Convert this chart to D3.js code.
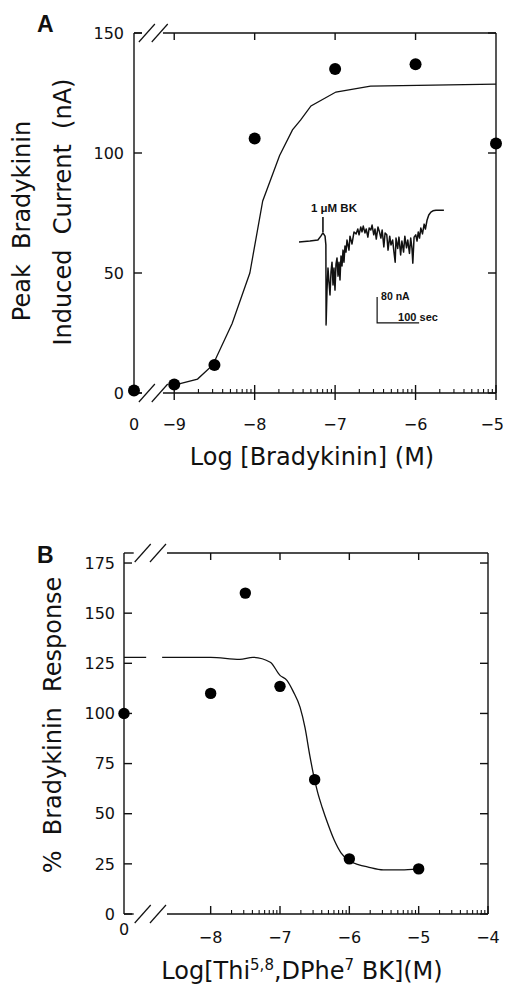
<!DOCTYPE html>
<html>
<head>
<meta charset="utf-8">
<script src="https://cdn.jsdelivr.net/npm/d3@7"></script>
<style>
	body{margin:0;background:#fff;}
	svg{display:block;}
	.ticklabel{font-family:"DejaVu Sans",sans-serif;font-size:16px;fill:#111;}
	.title{font-family:"DejaVu Sans",sans-serif;font-size:24px;fill:#111;}
	.panel{font-family:"Liberation Sans",Arial,sans-serif;font-weight:bold;font-size:23px;fill:#111;}
	.inset{font-family:"Liberation Sans",Arial,sans-serif;font-weight:bold;font-size:10.5px;fill:#111;}
	.axis{stroke:#111;stroke-width:1.4;fill:none;}
	.fit{stroke:#111;stroke-width:1.3;fill:none;}
	.trace{stroke:#111;stroke-width:1.5;fill:none;stroke-linejoin:round;}
</style>
</head>
<body>
<svg id="fig" width="505" height="986"></svg>
<script>
// ---- Panel A : peak bradykinin current vs log [BK] ----
const zeroA = -9.5;   // where "0" concentration sits on the broken axis
const logA = [zeroA, -9, -8.5, -8, -7, -6, -5];
const currentA = [1, 3.5, 11.7, 106, 135, 137, 104];
const fitLogA = [-9.0, -8.71, -8.52, -8.28, -8.06, -7.9, -7.69, -7.53, -7.43, -7.3, -6.99, -6.56, -5.0];
const fitCurrentA = [3.3, 5.8, 11.7, 29, 50, 80, 99, 109.6, 113.7, 119.6, 125.4, 127.9, 128.7];
const xTicksA = [zeroA, -9, -8, -7, -6, -5];
const xTickLabelsA = ["0", "\u22129", "\u22128", "\u22127", "\u22126", "\u22125"];
const yTicksA = [0, 50, 100, 150];

// inset current trace (seconds, nA relative to holding current)
const traceTime = [0, 26, 45, 52, 57, 62, 64, 64.5, 66.7, 69, 71.4, 73.8, 76.2, 78.6, 81, 83.3, 85.7, 88.1, 90.5, 92.9, 95.2, 97.6, 100, 102.4, 104.8, 107.1, 109.5, 111.9, 114.3, 119, 121.4, 126.2, 131,
	136, 140, 143, 147, 150, 153, 157, 160, 164, 167, 171, 174, 178, 181, 184, 188, 191, 195, 198, 202, 205, 209, 212, 216, 219, 223, 226, 229, 231, 235, 238, 242, 245, 249, 252, 256, 259, 263, 266, 269, 271, 274, 278, 281, 284, 287, 290, 294, 298, 301, 305, 309, 314, 319, 326, 345];
const traceCurrent = [0, 3, 6, 18, 28, 18, -9, -255, -148, -80, -123, -163, -92, -62, -132, -80, -148, -68, -49, -105, -62, -117, -43, -74, -25, -62, -12, -31, 6, -25, 18, -6, 31,
	25, 40, 22, 46, 31, 49, 28, 40, 15, 43, 37, 52, 22, 40, 9, 46, 34, 12, 37, -15, 28, 22, -25, 18, -9, 6, -30, -62, 12, -20, 15, -40, 3, -31, 18, -18, 6, -35, 12, -20, -65, 15, 22, 3, 31, 12, 43, 25, 55, 40, 68, 83, 92, 96, 98, 98];
const markerTime = 57;
const markerCurrent = [31, 77];
const scaleBarTime = 100, scaleBarCurrent = 80;
const scaleBarOrigin = [186, -249];

// ---- Panel B : % bradykinin response vs log [antagonist] ----
const zeroB = -9.25;
const logB = [zeroB, -8, -7.5, -7, -6.5, -6, -5];
const responseB = [100, 110, 160, 113.5, 67, 27.5, 22.5];
const fitLogB = [-9.25, -8.93, -8.8, -8.70, -8.0, -7.58, -7.39, -7.14, -7.0, -6.90, -6.81, -6.71, -6.64, -6.57, -6.52, -6.46, -6.39, -6.31, -6.22, -6.12, -6.02, -5.86, -5.74, -5.51, -5.25, -5.02];
const fitResponseB = [128, 128, null, 128, 128, 127, 128, 125.5, 119, 116.5, 111, 103, 93, 79, 70, 61, 53, 45, 37, 30.5, 27, 24.5, 23.5, 22, 22, 22.5];
const xTicksB = [zeroB, -8, -7, -6, -5, -4];
const xTickLabelsB = ["0", "\u22128", "\u22127", "\u22126", "\u22125", "\u22124"];
const yTicksB = [0, 25, 50, 75, 100, 125, 150, 175];

const svg = d3.select("#fig");

/* draws a framed panel with a broken log axis */
function drawFrame(g, x, y, opt){
	const [x0, x1] = x.domain();
	const [yb, yt] = y.domain();
	const Y0 = y(yb), Y1 = y(yt);
	// left and right sides
	g.append("line").attr("class","axis").attr("x1",x(x0)).attr("x2",x(x0)).attr("y1",Y0).attr("y2",Y1);
	g.append("line").attr("class","axis").attr("x1",x(x1)).attr("x2",x(x1)).attr("y1",Y0).attr("y2",Y1);
	// top and bottom, interrupted by the break
	[Y0, Y1].forEach(yy => {
		g.append("line").attr("class","axis").attr("x1",x(x0)).attr("x2",x(opt.gap[0])).attr("y1",yy).attr("y2",yy);
		g.append("line").attr("class","axis").attr("x1",x(opt.gap[1])).attr("x2",x(x1)).attr("y1",yy).attr("y2",yy);
		opt.slashes.forEach(s => {
			g.append("line").attr("class","axis").style("stroke-width",1.2)
				.attr("x1",x(s)-8).attr("y1",yy+9).attr("x2",x(s)+8).attr("y2",yy-9);
		});
	});
	// y ticks, both sides, inward
	opt.yTicks.forEach(v => {
		g.append("line").attr("class","axis").attr("x1",x(x0)).attr("x2",x(x0)+8).attr("y1",y(v)).attr("y2",y(v));
		g.append("line").attr("class","axis").attr("x1",x(x1)).attr("x2",x(x1)-8).attr("y1",y(v)).attr("y2",y(v));
		g.append("text").attr("class","ticklabel").attr("text-anchor","end")
			.attr("x",x(x0)-opt.yLabelGap).attr("y",y(v)).attr("dy","0.36em").text(v);
	});
	// major x ticks
	opt.majors.forEach(v => {
		g.append("line").attr("class","axis").attr("x1",x(v)).attr("x2",x(v)).attr("y1",Y0+opt.majorDown).attr("y2",Y0-8);
		if (v < x1) g.append("line").attr("class","axis").attr("x1",x(v)).attr("x2",x(v)).attr("y1",Y1).attr("y2",Y1+7);
	});
	// minor log ticks on the bottom axis
	const minors = [];
	opt.majors.forEach(d => { if (d < x1) d3.range(2,10).forEach(k => minors.push(d + Math.log10(k))); });
	minors.filter(v => v > opt.gap[1]).forEach(v => {
		g.append("line").attr("class","axis").style("stroke-width",1.1).attr("x1",x(v)).attr("x2",x(v)).attr("y1",Y0).attr("y2",Y0-4);
	});
	// x tick labels (last one kept inside the page)
	opt.xTicks.forEach((v,i) => {
		const last = i === opt.xTicks.length - 1 && x(v) > 490;
		g.append("text").attr("class","ticklabel").attr("text-anchor", last ? "end" : "middle")
			.attr("x", last ? 504 : x(v)).attr("y", i === 0 ? opt.zeroLabelY : opt.xLabelY).text(opt.xLabels[i]);
	});
}

// ------------------ Panel A ------------------
const xA = d3.scaleLinear().domain([zeroA, -5]).range([134, 496]);
const yA = d3.scaleLinear().domain([0, 150]).range([393, 33]);
const gA = svg.append("g");
drawFrame(gA, xA, yA, {
	gap: [-9.40, -9.14], slashes: [-9.34, -9.18],
	yTicks: yTicksA, yLabelGap: 10,
	majors: [-9, -8, -7, -6, -5], majorDown: 7,
	xTicks: xTicksA, xLabels: xTickLabelsA, xLabelY: 430, zeroLabelY: 430
});

gA.append("path").attr("class","fit")
	.attr("d", d3.line().x(d => xA(d[0])).y(d => yA(d[1]))(d3.zip(fitLogA, fitCurrentA)));

gA.selectAll(".dotA").data(d3.zip(logA, currentA)).enter().append("circle")
	.attr("class","dotA").attr("cx", d => xA(d[0])).attr("cy", d => yA(d[1])).attr("r", 6).attr("fill","#000");

gA.append("text").attr("class","panel").attr("x",37).attr("y",32).text("A");
gA.append("text").attr("class","title").attr("text-anchor","middle").attr("x",312).attr("y",465).text("Log [Bradykinin] (M)");
gA.append("text").attr("class","title").attr("text-anchor","middle")
	.attr("transform","translate(30,221) rotate(-90)").attr("xml:space","preserve").text("Peak  Bradykinin");
gA.append("text").attr("class","title").attr("text-anchor","middle")
	.attr("transform","translate(71,212) rotate(-90)").attr("xml:space","preserve").text("Induced  Current  (nA)");

// inset trace
const tS = d3.scaleLinear().domain([0, 100]).range([299, 341]);
const iS = d3.scaleLinear().domain([0, 80]).range([242, 216]);
gA.append("path").attr("class","trace")
	.attr("d", d3.line().x(d => tS(d[0])).y(d => iS(d[1]))(d3.zip(traceTime, traceCurrent)));
gA.append("line").attr("class","axis").style("stroke-width",1.6)
	.attr("x1",tS(markerTime)).attr("x2",tS(markerTime)).attr("y1",iS(markerCurrent[0])).attr("y2",iS(markerCurrent[1]));
gA.append("text").attr("class","inset").attr("text-anchor","middle").style("font-size","11.5px")
	.attr("x",tS(markerTime)+11).attr("y",iS(markerCurrent[1])-5).text("1 \u03bcM BK");
const [sbT, sbI] = scaleBarOrigin;
gA.append("path").attr("class","axis").style("stroke-width",1.2)
	.attr("d", d3.line().x(d => tS(d[0])).y(d => iS(d[1]))([[sbT, sbI + scaleBarCurrent],[sbT, sbI],[sbT + scaleBarTime, sbI]]));
gA.append("text").attr("class","inset").attr("x",tS(sbT)+4).attr("y",iS(sbI + scaleBarCurrent)+3).text(scaleBarCurrent + " nA");
gA.append("text").attr("class","inset").style("font-size","11px").attr("x",tS(sbT)+21).attr("y",iS(sbI)-2).text(scaleBarTime + " sec");

// ------------------ Panel B ------------------
const xB = d3.scaleLinear().domain([zeroB, -4]).range([124, 488]);
const yB = d3.scaleLinear().domain([0, 180]).range([914, 553]);
const gB = svg.append("g");
drawFrame(gB, xB, yB, {
	gap: [-9.11, -8.63], slashes: [-8.98, -8.76],
	yTicks: yTicksB, yLabelGap: 9,
	majors: [-8, -7, -6, -5, -4], majorDown: 0,
	xTicks: xTicksB, xLabels: xTickLabelsB, xLabelY: 943, zeroLabelY: 935
});

gB.append("path").attr("class","fit")
	.attr("d", d3.line().defined(d => d[1] != null).curve(d3.curveMonotoneX)
		.x(d => xB(d[0])).y(d => yB(d[1]))(d3.zip(fitLogB, fitResponseB)));

gB.selectAll(".dotB").data(d3.zip(logB, responseB)).enter().append("circle")
	.attr("class","dotB").attr("cx", d => xB(d[0])).attr("cy", d => yB(d[1])).attr("r", 5.7).attr("fill","#000");

gB.append("text").attr("class","panel").attr("x",37).attr("y",563).text("B");
gB.append("text").attr("class","title").attr("text-anchor","middle")
	.attr("transform","translate(61,725) rotate(-90)").attr("xml:space","preserve").text("%  Bradykinin  Response");

const xt = gB.append("text").attr("class","title").attr("text-anchor","middle").attr("x",302).attr("y",979);
xt.append("tspan").text("Log[Thi");
xt.append("tspan").attr("dy",-9).style("font-size","15px").text("5,8");
xt.append("tspan").attr("dy",9).text(",DPhe");
xt.append("tspan").attr("dy",-9).style("font-size","15px").text("7");
xt.append("tspan").attr("dy",9).text(" BK](M)");
</script>
</body>
</html>
